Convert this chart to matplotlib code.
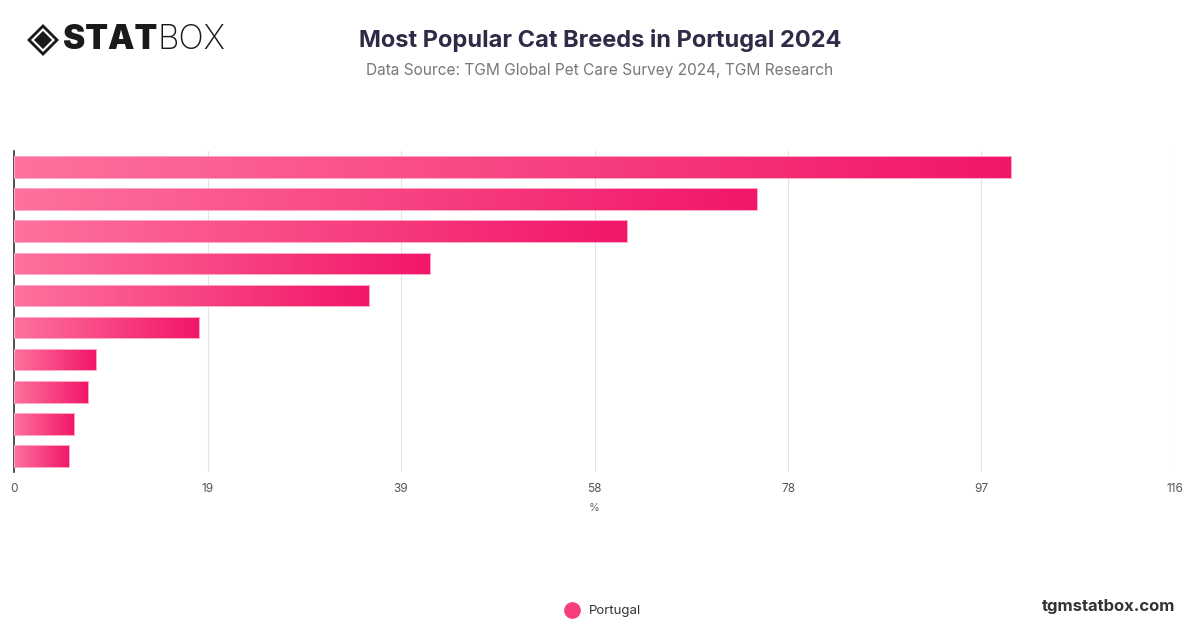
import matplotlib
matplotlib.use("Agg")
import matplotlib.pyplot as plt
import numpy as np
from matplotlib.colors import LinearSegmentedColormap
from matplotlib.lines import Line2D
from matplotlib.patches import Polygon

# bar values in %, top to bottom (breed names are not shown on the chart)
values = [99.6, 74.2, 61.2, 41.6, 35.5, 18.5, 8.2, 7.4, 6.0, 5.5]
series_name = "Portugal"
x_max = 116
tick_values = np.linspace(0, x_max, 7)
tick_labels = ["0", "19", "39", "58", "78", "97", "116"]

title = "Most Popular Cat Breeds in Portugal 2024"
subtitle = "Data Source: TGM Global Pet Care Survey 2024, TGM Research"

plt.rcParams['font.family'] = ['Inter', 'DejaVu Sans']

light_pink = "#fe729d"
deep_pink = "#f2166a"
cmap = LinearSegmentedColormap.from_list("pinks", [light_pink, deep_pink])

fig = plt.figure(figsize=(12, 6.28), dpi=100)
ax = fig.add_axes([14 / 1200, 1 - 472 / 628, (1175 - 14) / 1200, (472 - 151) / 628])

bar_h = 0.675
grad = np.tile(np.linspace(0, 1, 256), (4, 1))
for i, v in enumerate(values):
    bar = ax.barh(i, v, height=bar_h, facecolor='none', edgecolor='#ffa8c4',
                  linewidth=0.7, zorder=4)[0]
    im = ax.imshow(grad, cmap=cmap, aspect='auto', interpolation='nearest',
                   extent=[0, v, i + bar_h / 2 + 0.05, i - bar_h / 2 - 0.05], zorder=3)
    im.set_clip_path(bar)

ax.set_xlim(0, x_max)
ax.set_ylim(len(values) - 0.5, -0.5)
ax.set_xticks(tick_values)
ax.set_xticklabels(tick_labels)
ax.set_yticks([])
ax.grid(axis='x', color='#e3e3e3', linewidth=0.8, zorder=0)
ax.set_axisbelow(True)
for s in ['top', 'right', 'bottom']:
    ax.spines[s].set_visible(False)
ax.spines['left'].set_color('#333333')
ax.spines['left'].set_linewidth(1.2)
ax.tick_params(axis='x', length=0, pad=8, labelsize=8.5, labelcolor='#555555')
ax.set_xlabel("%", fontsize=8, color='#666666', labelpad=6)

# titles
fig.text(0.5, 1 - 40 / 628, title, ha='center', va='center', fontsize=17,
         fontweight='bold', color='#2e2b47')
fig.text(0.5, 1 - 71 / 628, subtitle, ha='center', va='center', fontsize=11.1,
         color='#777777')

# logo
cx, cy, r = 43 / 1200, 1 - 40 / 628, 16
def diamond(x, y, rad, **kw):
    dx, dy = rad / 1200, rad / 628
    return Polygon([(x - dx, y), (x, y + dy), (x + dx, y), (x, y - dy)],
                   closed=True, transform=fig.transFigure, **kw)
fig.patches.append(diamond(cx, cy, r, facecolor='#1a1a1a'))
fig.patches.append(diamond(cx, cy, r - 4, facecolor='white'))
fig.patches.append(diamond(cx, cy, r - 7, facecolor='#1a1a1a'))
t = fig.text(63 / 1200, 1 - 40 / 628, "STAT", ha='left', va='center',
             fontsize=24, fontweight='black', color='#1a1a1a')
fig.canvas.draw()
bb = t.get_window_extent()
fig.text(bb.x1 / 1200, 1 - 40 / 628, "BOX", ha='left', va='center',
         fontsize=24, fontweight='light', color='#1a1a1a')

# legend
handle = Line2D([], [], marker='o', linestyle='none', markersize=11,
                markerfacecolor='#f83d7e', markeredgecolor='#f83d7e')
fig.legend([handle], [series_name], loc='center', bbox_to_anchor=(0.5, 1 - 611 / 628),
           frameon=False, fontsize=9.5, handletextpad=0.3, labelcolor='#333333')

fig.text(1175 / 1200, 1 - 606 / 628, "tgmstatbox.com", ha='right', va='center',
         fontsize=12, fontweight='bold', color='#333333')

fig.savefig("out.png", dpi=100)
